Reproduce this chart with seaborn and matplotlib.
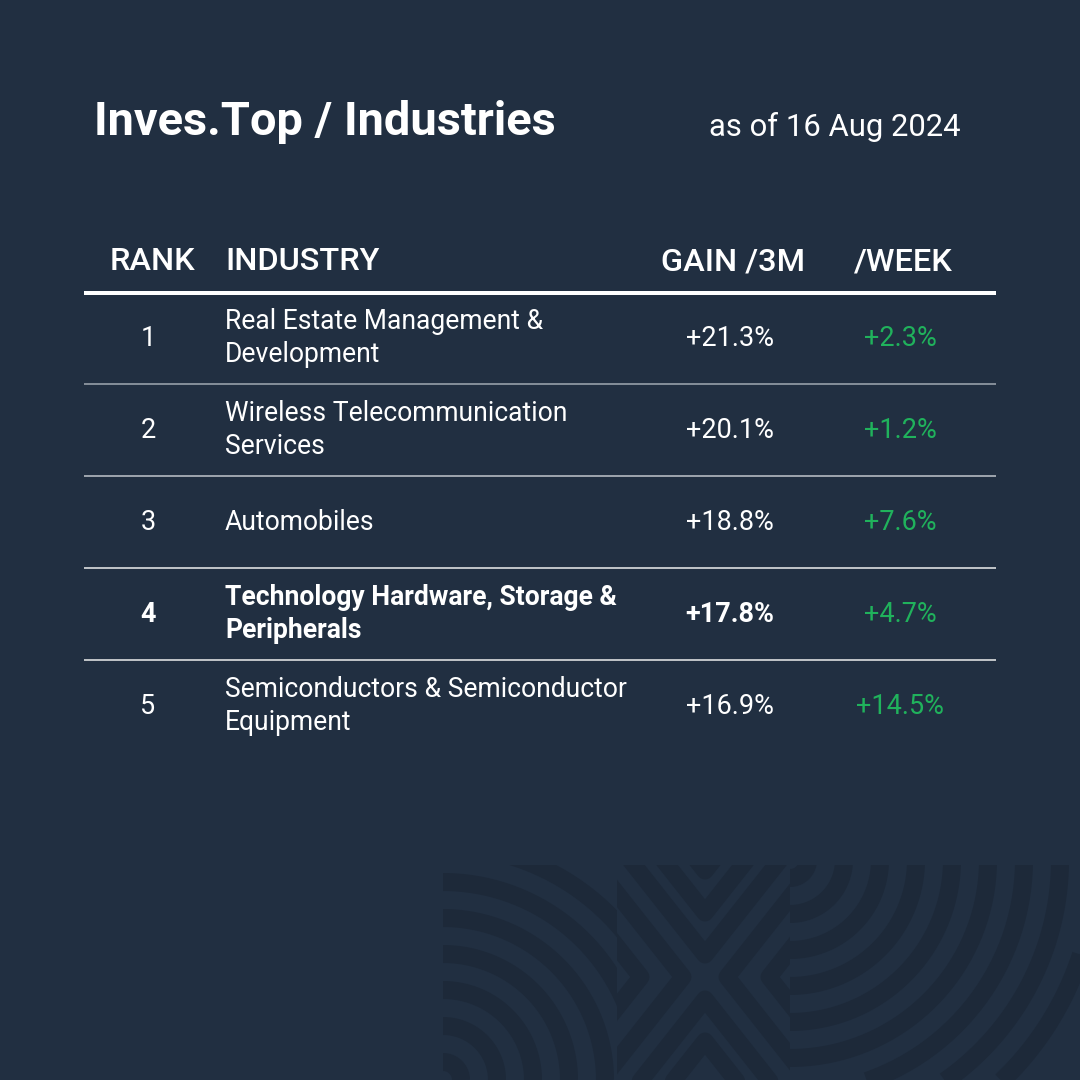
import numpy as np
import pandas as pd
import seaborn as sns
import matplotlib.pyplot as plt
from matplotlib.patches import Rectangle

ranks = [1, 2, 3, 4, 5]
industries = ['Real Estate Management &\nDevelopment',
              'Wireless Telecommunication\nServices',
              'Automobiles',
              'Technology Hardware, Storage &\nPeripherals',
              'Semiconductors & Semiconductor\nEquipment']
gain_3m = [21.3, 20.1, 18.8, 17.8, 16.9]
gain_week = [2.3, 1.2, 7.6, 4.7, 14.5]
highlight = [False, False, False, True, False]
headers = ['RANK', 'INDUSTRY', 'GAIN /3M', '/WEEK']

title = 'Inves.Top / Industries'
date_label = 'as of 16 Aug 2024'

BG = '#212f41'
DARK = '#1d2939'
GREEN = '#20b25c'
FONT = 'Roboto'

sns.set_theme(style='dark', rc={'figure.facecolor': BG, 'axes.facecolor': BG})
plt.rcParams['font.family'] = [FONT, 'DejaVu Sans']

df = pd.DataFrame({'rank': ranks, 'industry': industries,
                   'gain_3m': gain_3m, 'gain_week': gain_week, 'bold': highlight})

fig = plt.figure(figsize=(10.8, 10.8), dpi=100)
ax = fig.add_axes([0, 0, 1, 1])
ax.set_xlim(0, 1080)
ax.set_ylim(1080, 0)
ax.axis('off')

PX = 0.72  # points per pixel at dpi 100


def px(v):
    return v * PX


# background decoration (bottom right)
clip_left = Rectangle((443, 865), 174, 215, transform=ax.transData)
clip_mid = Rectangle((617, 865), 173, 215, transform=ax.transData)
clip_right = Rectangle((790, 865), 290, 215, transform=ax.transData)
theta = np.linspace(0, 2 * np.pi, 300)
for r in np.arange(18, 260, 36):
    ln, = ax.plot(443 + r * np.cos(theta), 1080 + r * np.sin(theta),
                  color=DARK, lw=px(18), solid_capstyle='butt')
    ln.set_clip_path(clip_left)
for r in np.arange(18, 340, 36):
    ln, = ax.plot(790 + r * np.cos(theta), 860 + r * np.sin(theta),
                  color=DARK, lw=px(18), solid_capstyle='butt')
    ln.set_clip_path(clip_right)
cx, cy = 705, 977
for k in range(4):
    d = 22 + k * 42
    for sy in [-1, 1]:
        vx, vy = cx, cy + sy * d
        ln, = ax.plot([vx - 150, vx, vx + 150], [vy + sy * 190, vy, vy + sy * 190],
                      color=DARK, lw=px(17))
        ln.set_clip_path(clip_mid)
    for sx in [-1, 1]:
        vx, vy = cx + sx * d, cy
        ln, = ax.plot([vx + sx * 150, vx, vx + sx * 150], [vy - 190, vy, vy + 190],
                      color=DARK, lw=px(17))
        ln.set_clip_path(clip_mid)

# title
ax.text(94, 122, title, fontsize=px(47), fontweight='bold', color='white',
        va='center', ha='left')
ax.text(961, 127, date_label, fontsize=px(31), color='white', va='center', ha='right')

# header
col_x = [152, 225, 733, 903]
col_ha = ['center', 'left', 'center', 'center']
for h, x, ha in zip(headers, col_x, col_ha):
    ax.text(x, 262, h, fontsize=px(32.5), fontweight='medium', color='white',
            va='center', ha=ha)
ax.hlines(293, 84, 996, color='white', lw=px(4))

row_h = 92
y0 = 338
sep_colors = ['#a3abb4', '#c4c9cf', '#f2f2f2', '#f2f2f2']
for i, row in df.iterrows():
    y = y0 + i * row_h
    w = 'bold' if row['bold'] else 'normal'
    ax.text(148, y, str(row['rank']), fontsize=px(27), fontweight=w, color='white',
            va='center', ha='center')
    ax.text(225, y, row['industry'], fontsize=px(26.5), fontweight=w, color='white',
            va='center', ha='left', linespacing=1.32)
    ax.text(730, y, f"+{row['gain_3m']:.1f}%", fontsize=px(27), fontweight=w,
            color='white', va='center', ha='center')
    ax.text(900, y, f"+{row['gain_week']:.1f}%", fontsize=px(27), color=GREEN,
            va='center', ha='center')
    if i < len(df) - 1:
        ax.hlines(y + row_h / 2, 84, 996, color=sep_colors[i], lw=px(1.5))

fig.savefig('out.png', dpi=100, facecolor=BG)
